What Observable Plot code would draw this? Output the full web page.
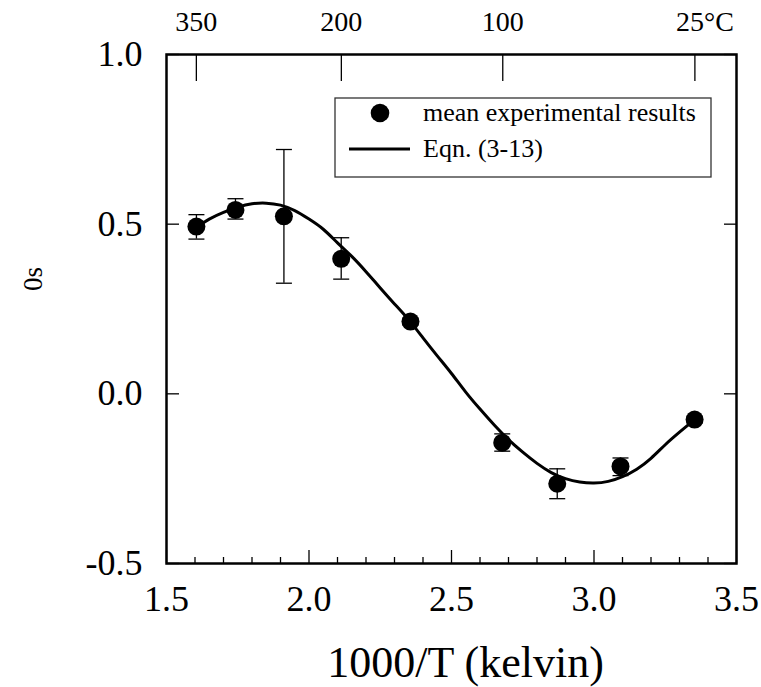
<!DOCTYPE html>
<html><head><meta charset="utf-8">
<script src="https://cdn.jsdelivr.net/npm/d3@7"></script>
<script src="https://cdn.jsdelivr.net/npm/@observablehq/plot@0.6"></script>
<style>body{margin:0;background:#fff} svg text{font-family:'Liberation Serif','Times New Roman',serif !important;}</style>
</head><body><div id="chart"></div>
<script>
// measured points (x = 1000/T, y = s0) with error bar bounds
const pointX = [1.605, 1.742, 1.912, 2.113, 2.356, 2.678, 2.871, 3.093, 3.353];
const pointY = [0.493, 0.542, 0.523, 0.398, 0.213, -0.144, -0.265, -0.214, -0.076];
const errLow = [0.456, 0.515, 0.326, 0.338, 0.203, -0.169, -0.309, -0.241, -0.086];
const errHigh = [0.528, 0.575, 0.720, 0.460, 0.223, -0.118, -0.221, -0.189, -0.066];

// fitted curve Eqn. (3-13)
const curveX = [1.605, 1.65, 1.70, 1.75, 1.80, 1.85, 1.90, 1.95, 2.00, 2.05, 2.10, 2.15, 2.20, 2.25, 2.30, 2.35, 2.40, 2.45, 2.50, 2.55, 2.60, 2.65, 2.70, 2.75, 2.80, 2.85, 2.90, 2.95, 3.00, 3.05, 3.10, 3.15, 3.20, 3.25, 3.30, 3.353];
const curveY = [0.490, 0.515, 0.535, 0.550, 0.560, 0.562, 0.556, 0.540, 0.515, 0.485, 0.445, 0.405, 0.360, 0.312, 0.265, 0.218, 0.165, 0.112, 0.060, 0.005, -0.045, -0.092, -0.135, -0.172, -0.205, -0.232, -0.250, -0.260, -0.263, -0.258, -0.244, -0.222, -0.190, -0.150, -0.113, -0.076];

// axes
const xMajor = [1.5, 2.0, 2.5, 3.0, 3.5];
const xMinor = [1.6, 1.7, 1.8, 1.9, 2.1, 2.2, 2.3, 2.4, 2.6, 2.7, 2.8, 2.9, 3.1, 3.2, 3.3, 3.4];
const yTicks = [-0.5, 0.0, 0.5, 1.0];
const celsius = [350, 200, 100, 25];
const celsiusLabels = ["350", "200", "100", "25°C"];
const celsiusX = celsius.map(c => 1000 / (c + 273.15));

const xLabel = "1000/T (kelvin)";
const yLabel = "0s";
const legendLabels = ["mean experimental results", "Eqn. (3-13)"];

const points = pointX.map((x, i) => ({x, y: pointY[i], lo: errLow[i], hi: errHigh[i]}));
const curve = curveX.map((x, i) => ({x, y: curveY[i]}));
const capSymbol = {draw(ctx, size) { const w = Math.sqrt(size / Math.PI); ctx.moveTo(-w, 0); ctx.lineTo(w, 0); }};

const font = "Liberation Serif";
const fmt = d => d.toFixed(1);

const plot = Plot.plot({
  width: 761, height: 687,
  marginLeft: 166, marginRight: 25, marginTop: 54, marginBottom: 124,
  style: {fontFamily: font, background: "white", color: "black"},
  x: {domain: [1.5, 3.5]},
  y: {domain: [-0.5, 1.0]},
  marks: [
    Plot.axisX(xMajor, {anchor: "bottom", tickSize: 0, tickPadding: 22, fontSize: 36, fontFamily: font, tickFormat: fmt, label: null}),
    Plot.axisX(xMajor, {anchor: "bottom", tickSize: -13, fill: "none", strokeWidth: 1.3, label: null}),
    Plot.axisX(xMinor, {anchor: "bottom", tickSize: -6, fill: "none", strokeWidth: 1.3, label: null}),
    Plot.axisX(celsiusX, {anchor: "top", tickSize: -26, fill: "none", strokeWidth: 1.3, label: null}),
    Plot.text(celsiusX.slice(0, 3), {x: d => d, frameAnchor: "top", dy: -32, text: (d, i) => celsiusLabels[i], fontSize: 28, fontFamily: font, lineAnchor: "middle"}),
    Plot.text(celsiusX.slice(3), {x: d => d, frameAnchor: "top", dy: -32, dx: 10, text: (d, i) => celsiusLabels[3 + i], fontSize: 28, fontFamily: font, lineAnchor: "middle"}),
    Plot.axisY(yTicks, {anchor: "left", tickSize: 0, tickPadding: 24, fontSize: 36, fontFamily: font, tickFormat: fmt, label: null}),
    Plot.axisY(yTicks, {anchor: "left", tickSize: -13, fill: "none", strokeWidth: 1.3, label: null}),
    Plot.axisY(yTicks, {anchor: "right", tickSize: -13, fill: "none", strokeWidth: 1.3, label: null}),
    Plot.text([xLabel], {frameAnchor: "bottom", dy: 99, dx: 14, fontSize: 44, fontFamily: font, lineAnchor: "middle"}),
    Plot.text([yLabel], {frameAnchor: "left", dx: -133, dy: -18, rotate: -90, fontSize: 27, fontFamily: font, lineAnchor: "middle"}),
    Plot.frame({stroke: "black", strokeWidth: 2.5}),
    Plot.ruleX(points, {x: "x", y1: "lo", y2: "hi", stroke: "black", strokeWidth: 1.3}),
    Plot.dot(points, {x: "x", y: "lo", symbol: capSymbol, r: 8, stroke: "black", strokeWidth: 1.3, fill: "none"}),
    Plot.dot(points, {x: "x", y: "hi", symbol: capSymbol, r: 8, stroke: "black", strokeWidth: 1.3, fill: "none"}),
    Plot.line(curve, {x: "x", y: "y", curve: "natural", stroke: "black", strokeWidth: 3}),
    Plot.dot(points, {x: "x", y: "y", r: 9, fill: "black", stroke: "none"})
  ]
});

// legend box inside the plot
const svg = d3.select(plot);
const g = svg.append("g").attr("font-family", font).attr("font-size", 26).attr("text-anchor", "start");
g.append("rect").attr("x", 335).attr("y", 98).attr("width", 376).attr("height", 79)
  .attr("fill", "white").attr("stroke", "#333").attr("stroke-width", 1.3);
g.append("circle").attr("cx", 380).attr("cy", 113).attr("r", 9.3).attr("fill", "black");
g.append("text").attr("x", 423).attr("y", 121).attr("text-anchor", "start").text(legendLabels[0]);
g.append("line").attr("x1", 349).attr("x2", 410).attr("y1", 149).attr("y2", 149)
  .attr("stroke", "black").attr("stroke-width", 3);
g.append("text").attr("x", 423).attr("y", 157).attr("text-anchor", "start").text(legendLabels[1]);

document.getElementById("chart").appendChild(plot);
</script>
</body></html>
